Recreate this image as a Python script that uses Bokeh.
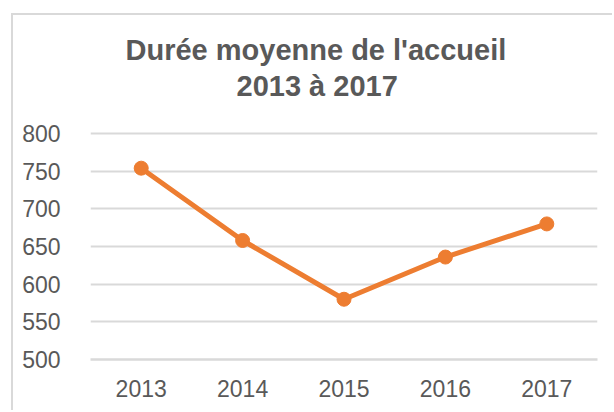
from bokeh.plotting import figure
from bokeh.models import Range1d, Title, FixedTicker
from bokeh.embed import file_html
from bokeh.resources import INLINE

years = ["2013", "2014", "2015", "2016", "2017"]
durations = [754, 658, 580, 636, 680]
y_ticks = [500, 550, 600, 650, 700, 750, 800]
title_line1 = "Durée moyenne de l'accueil"
title_line2 = "2013 à 2017"

GREY_TEXT = "#595959"
GRID = "#d9d9d9"
ORANGE = "#ED7D31"
FONT = "Liberation Sans"

p = figure(x_range=years, y_range=Range1d(500, 802.7), width=601, height=397,
           output_backend="svg", toolbar_location=None,
           min_border_left=77, min_border_right=17, min_border_bottom=53,
           min_border_top=116,
           styles={"border-left": f"2px solid {GRID}", "border-top": f"2px solid {GRID}"},
           margin=(13, 0, 0, 11))
p.title = None
p.x_range.range_padding = 0
p.outline_line_color = None

spacer = Title(text=" ", text_font_size="1px", standoff=25)
t2 = Title(text=title_line2, align="left", offset=146, text_font=FONT,
           text_font_size="29px", text_font_style="bold", text_color=GREY_TEXT, standoff=4)
t1 = Title(text=title_line1, align="left", offset=35, text_font=FONT,
           text_font_size="29px", text_font_style="bold", text_color=GREY_TEXT, standoff=0)
p.add_layout(spacer, "above")
p.add_layout(t2, "above")
p.add_layout(t1, "above")

p.line(years, durations, line_color=ORANGE, line_width=5)
p.scatter(years, durations, size=14, fill_color=ORANGE, line_color=ORANGE)

p.yaxis.ticker = FixedTicker(ticks=y_ticks)
p.yaxis.axis_line_color = None
p.yaxis.major_tick_line_color = None
p.yaxis.minor_tick_line_color = None
p.yaxis.major_label_standoff = 24
p.yaxis.major_label_text_font = FONT
p.yaxis.major_label_text_font_size = "23px"
p.yaxis.major_label_text_color = GREY_TEXT

p.xaxis.axis_line_color = GRID
p.xaxis.axis_line_width = 2.5
p.xaxis.major_tick_line_color = None
p.xaxis.minor_tick_line_color = None
p.xaxis.major_label_standoff = 14
p.xaxis.major_label_text_font = FONT
p.xaxis.major_label_text_font_size = "23px"
p.xaxis.major_label_text_color = GREY_TEXT

p.xgrid.grid_line_color = None
p.ygrid.grid_line_color = GRID
p.ygrid.grid_line_width = 2

open("out.html", "w").write(file_html(p, INLINE))
